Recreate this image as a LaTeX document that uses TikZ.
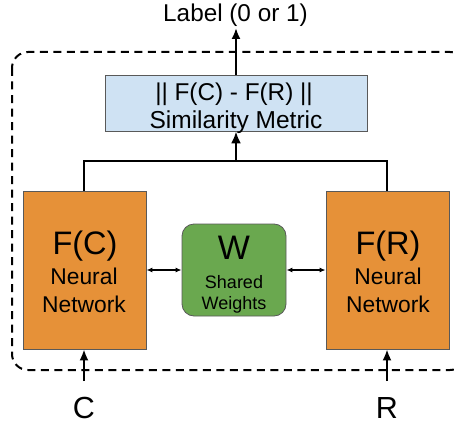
\documentclass[tikz,border=0pt]{standalone}
\usepackage{fontspec}
\setmainfont{Liberation Sans}
\usetikzlibrary{arrows.meta}
\definecolor{orangefill}{HTML}{E69138}
\definecolor{greenfill}{HTML}{6AA84F}
\definecolor{bluefill}{HTML}{CFE2F3}
\definecolor{boxline}{HTML}{595959}
\begin{document}
\begin{tikzpicture}[x=1pt,y=-1pt,
  nnbox/.style={draw=boxline,line width=0.8pt,fill=orangefill},
  wbox/.style={draw=boxline,line width=0.8pt,fill=greenfill,rounded corners=12pt},
  metricbox/.style={draw=boxline,line width=0.8pt,fill=bluefill},
  txt/.style={inner sep=0pt,anchor=base},
  tree/.style={line width=2.8pt},
  bigarrow/.style={line width=2pt,-{Latex[length=11pt,width=9pt]}},
  smallarrow/.style={line width=1.2pt,{Latex[length=6pt,width=5pt]}-{Latex[length=6pt,width=5pt]}}
]
\useasboundingbox (0,0) rectangle (454,425);
% dashed container
\draw[line width=2pt,dash pattern=on 8pt off 5.5pt,rounded corners=16pt] (12,52) rectangle (466,370);
% boxes
\node[metricbox,minimum width=262pt,minimum height=56pt,inner sep=0pt] (metric) at (236,103) {};
\node[nnbox,minimum width=123pt,minimum height=158pt,inner sep=0pt] (fc) at (84.5,270) {};
\node[nnbox,minimum width=123pt,minimum height=158pt,inner sep=0pt] (fr) at (387.5,270) {};
\node[wbox,minimum width=104pt,minimum height=92pt,inner sep=0pt] (w) at (234,270) {};
% texts
\node[txt,font=\fontsize{24.3}{27}\selectfont] (label) at (235.5,21.5) {Label (0 or 1)};
\node[txt,font=\fontsize{24.3}{27}\selectfont] (m1) at (234,100) {|| F(C) - F(R) ||};
\node[txt,font=\fontsize{24.5}{27}\selectfont] (m2) at (236,128) {Similarity Metric};
\node[txt,font=\fontsize{32.5}{36}\selectfont] (fc1) at (85,254) {F(C)};
\node[txt,font=\fontsize{22.8}{26}\selectfont] (fc2) at (84,284) {Neural};
\node[txt,font=\fontsize{22.8}{26}\selectfont] (fc3) at (84,312.5) {Network};
\node[txt,font=\fontsize{32.5}{36}\selectfont] (fr1) at (388,254) {F(R)};
\node[txt,font=\fontsize{22.8}{26}\selectfont] (fr2) at (388,284) {Neural};
\node[txt,font=\fontsize{22.8}{26}\selectfont] (fr3) at (388,312.5) {Network};
\node[txt,font=\fontsize{34}{38}\selectfont] (w1) at (234,259) {W};
\node[txt,font=\fontsize{18}{20}\selectfont] (w2) at (234,288) {Shared};
\node[txt,font=\fontsize{18}{20}\selectfont] (w3) at (234,309) {Weights};
\node[txt,font=\fontsize{30.5}{34}\selectfont] (cin) at (84,418) {C};
\node[txt,font=\fontsize{30.5}{34}\selectfont] (rin) at (387,418) {R};
% coordinates
\coordinate (join) at (236,161);
\coordinate (jl) at (84,161);
\coordinate (jr) at (387,161);
\coordinate (cstart) at (84,381);
\coordinate (rstart) at (387,381);
\coordinate (labeltip) at (236,28);
% connectors
\draw[tree] (fc.north -| jl) -- (jl) -- (jr) -- (fr.north -| jr);
\draw[line width=2.8pt,-{Latex[length=12pt,width=10pt]}] (join) -- (metric.south -| join);
\draw[bigarrow] (metric.north -| labeltip) -- (labeltip);
\draw[bigarrow] (cstart) -- (fc.south -| cstart);
\draw[bigarrow] (rstart) -- (fr.south -| rstart);
\draw[smallarrow] (fc.east) -- (w.west);
\draw[smallarrow] (w.east) -- (fr.west);
\end{tikzpicture}
\end{document}
